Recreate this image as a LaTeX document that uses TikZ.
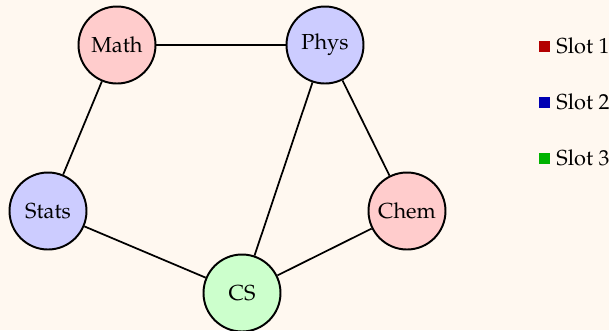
\documentclass[tikz,border=0pt]{standalone}
\usepackage[T1]{fontenc}
\usepackage{mathpazo}
\definecolor{bgcream}{HTML}{FFF8F0}
\definecolor{fillred}{HTML}{FFCCCC}
\definecolor{fillblue}{HTML}{CCCCFF}
\definecolor{fillgreen}{HTML}{CCFFCC}
\definecolor{slotred}{HTML}{B30000}
\definecolor{slotblue}{HTML}{0000B3}
\definecolor{slotgreen}{HTML}{00B300}
\begin{document}
\begin{tikzpicture}[x=0.46pt,y=-0.46pt,
  course/.style={circle,draw=black,line width=0.9pt,minimum size={77*0.46pt},inner sep=0pt},
  conflict/.style={line width=0.8pt},
  swatch/.style={rectangle,fill=#1,minimum size={11*0.46pt},inner sep=0pt},
  slotlabel/.style={anchor=west,inner sep=0pt}]
  \fill[bgcream] (0,0) rectangle (609,330);
  \useasboundingbox (0,0) rectangle (609,330);
  % courses, coloured by exam slot
  \node[course,fill=fillred]   (math)  at (117,45)  {Math};
  \node[course,fill=fillblue]  (phys)  at (325,45)  {Phys};
  \node[course,fill=fillblue]  (stats) at (48,211)  {Stats};
  \node[course,fill=fillred]   (chem)  at (407,211) {Chem};
  \node[course,fill=fillgreen] (cs)    at (242,293) {CS};
  % conflicts
  \draw[conflict] (math) -- (phys);
  \draw[conflict] (math) -- (stats);
  \draw[conflict] (phys) -- (chem);
  \draw[conflict] (phys) -- (cs);
  \draw[conflict] (stats) -- (cs);
  \draw[conflict] (chem) -- (cs);
  % legend
  \node[swatch=slotred]   (k1) at (544,46)  {};
  \node[swatch=slotblue]  (k2) at (544,102) {};
  \node[swatch=slotgreen] (k3) at (544,158) {};
  \node[slotlabel] (l1) at (556,46)  {Slot 1};
  \node[slotlabel] (l2) at (556,102) {Slot 2};
  \node[slotlabel] (l3) at (556,158) {Slot 3};
\end{tikzpicture}
\end{document}
